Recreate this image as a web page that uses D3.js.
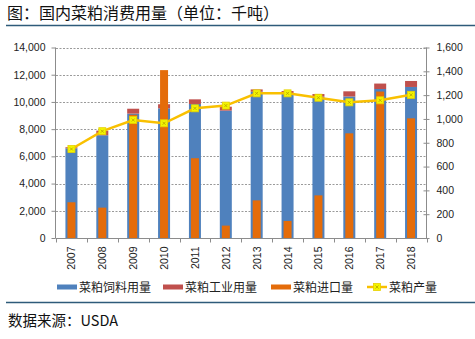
<!DOCTYPE html>
<html><head><meta charset="utf-8">
<script src="https://cdn.jsdelivr.net/npm/d3@7"></script>
<style>
body{margin:0;background:#fff;}
svg{display:block;}
text{font-family:"Liberation Sans",Arial,sans-serif;}
.cjk{font-family:"Noto Sans CJK SC",sans-serif;}
</style></head><body>
<script>
const years = ["2007","2008","2009","2010","2011","2012","2013","2014","2015","2016","2017","2018"];
const feedUse = [6590,7550,9140,9530,9850,9360,10750,10630,10390,10400,10950,11100];
const industrialUse = [80,340,360,300,340,290,170,170,190,380,400,440];
const imports = [300,255,1035,1410,670,104,316,143,358,879,1230,1005];
const production = [6540,7850,8670,8430,9530,9730,10630,10630,10310,9970,10120,10520];
const leftTicks = [0,2000,4000,6000,8000,10000,12000,14000];
const rightTicks = [0,200,400,600,800,1000,1200,1400,1600];
const seriesNames = ["菜粕饲料用量","菜粕工业用量","菜粕进口量","菜粕产量"];
const colors = {feed:"#4F81BD", ind:"#C0504D", imp:"#E46C0A", line:"#F9C000"};

const W=475,H=339;
const svg=d3.select("body").append("svg").attr("width",W).attr("height",H);

// title & frame lines
svg.append("text").attr("class","cjk").attr("x",7).attr("y",19).attr("font-size",16).attr("fill","#111").text("图：国内菜粕消费用量（单位：千吨）");
svg.append("line").attr("x1",6).attr("x2",475).attr("y1",25.5).attr("y2",25.5).attr("stroke","#2E5B7A").attr("stroke-width",1.5);
svg.append("line").attr("x1",6).attr("x2",475).attr("y1",302.5).attr("y2",302.5).attr("stroke","#2E5B7A").attr("stroke-width",1.5);
svg.append("text").attr("class","cjk").attr("x",8).attr("y",326).attr("font-size",14.5).attr("fill","#111").text("数据来源：USDA");

const x=d3.scaleBand().domain(years).range([56,426.5]).padding(0);
const yL=d3.scaleLinear().domain([0,14000]).range([238,47.5]);
const yR=d3.scaleLinear().domain([0,1600]).range([238,47.5]);

// gridlines
svg.append("g").selectAll("line").data(leftTicks.slice(1)).join("line")
  .attr("x1",56).attr("x2",426.5).attr("y1",d=>Math.round(yL(d))+0.5).attr("y2",d=>Math.round(yL(d))+0.5)
  .attr("stroke","#9a9a9a").attr("stroke-dasharray","2,1.5").attr("stroke-width",1);

// left axis
const gL=svg.append("g").attr("transform","translate(55.5,0)")
  .call(d3.axisLeft(yL).tickValues(leftTicks).tickSize(4).tickPadding(6).tickFormat(d3.format(",")));
// right axis
const gR=svg.append("g").attr("transform","translate(426.5,0)")
  .call(d3.axisRight(yR).tickValues(rightTicks).tickSize(3).tickPadding(7).tickFormat(d3.format(",")));
gR.selectAll(".tick line").attr("x1",-3);
// bottom axis
const gB=svg.append("g").attr("transform","translate(0,238.5)");
gB.append("line").attr("x1",55.5).attr("x2",426.5).attr("stroke","#8c8c8c");
gB.selectAll("line.t").data(d3.range(years.length+1)).join("line").attr("class","t")
  .attr("x1",i=>Math.round(56+i*x.bandwidth())+0.5).attr("x2",i=>Math.round(56+i*x.bandwidth())+0.5)
  .attr("y1",0).attr("y2",4).attr("stroke","#8c8c8c");
gB.selectAll("text").data(years).join("text")
  .attr("transform",d=>`translate(${x(d)+x.bandwidth()/2+4},8) rotate(-90)`)
  .attr("text-anchor","end").attr("font-size",10.5).attr("fill","#222").text(d=>d);

[gL,gR].forEach(g=>{
  g.select(".domain").attr("stroke","#8c8c8c");
  g.selectAll(".tick line").attr("stroke","#8c8c8c");
  g.selectAll(".tick text").attr("font-size",10.5).attr("fill","#222").style("font-family","Liberation Sans, Arial, sans-serif");
});
gL.select(".domain").attr("d","M0,47.5V238");
gR.select(".domain").attr("d","M0,47.5V238");

// stacked bars
const bw=12, ow=8;
const bars=svg.append("g");
years.forEach((yr,i)=>{
  const cx=x(yr)+x.bandwidth()/2;
  bars.append("rect").attr("x",cx-bw/2).attr("width",bw)
    .attr("y",yL(feedUse[i])).attr("height",yL(0)-yL(feedUse[i])).attr("fill",colors.feed);
  bars.append("rect").attr("x",cx-bw/2).attr("width",bw)
    .attr("y",yL(feedUse[i]+industrialUse[i])).attr("height",yL(feedUse[i])-yL(feedUse[i]+industrialUse[i])).attr("fill",colors.ind);
});
// import bars (right axis)
svg.append("g").selectAll("rect").data(imports).join("rect")
  .attr("x",(d,i)=>x(years[i])+x.bandwidth()/2-ow/2).attr("width",ow)
  .attr("y",d=>yR(d)).attr("height",d=>yR(0)-yR(d)).attr("fill",colors.imp);

// production line
const line=d3.line().x((d,i)=>x(years[i])+x.bandwidth()/2).y(d=>yL(d));
svg.append("path").datum(production).attr("d",line).attr("fill","none").attr("stroke",colors.line).attr("stroke-width",2.5);
function marker(g,cx,cy){
  g.append("rect").attr("x",cx-3.5).attr("y",cy-3.5).attr("width",7).attr("height",7).attr("fill","#F2F500").attr("stroke","#E8D000").attr("stroke-width",0.8);
  g.append("path").attr("d",`M${cx-1.5},${cy-1.5}L${cx+1.5},${cy+1.5}M${cx+1.5},${cy-1.5}L${cx-1.5},${cy+1.5}`).attr("stroke","#B8A000").attr("stroke-width",0.8);
}
const mg=svg.append("g");
production.forEach((d,i)=>marker(mg,x(years[i])+x.bandwidth()/2,yL(d)));

// legend
const lg=svg.append("g");
const items=[{n:seriesNames[0],c:colors.feed,x:57},{n:seriesNames[1],c:colors.ind,x:163},{n:seriesNames[2],c:colors.imp,x:271},{n:seriesNames[3],c:colors.line,x:367,line:true}];
items.forEach(it=>{
  if(it.line){
    lg.append("line").attr("x1",it.x).attr("x2",it.x+20).attr("y1",287).attr("y2",287).attr("stroke",it.c).attr("stroke-width",2.5);
    marker(lg,it.x+10,287);
  } else {
    lg.append("rect").attr("x",it.x).attr("y",284.5).attr("width",20).attr("height",5).attr("fill",it.c);
  }
  lg.append("text").attr("class","cjk").attr("x",it.x+22).attr("y",291.5).attr("font-size",12).attr("fill","#222").text(it.n);
});
</script>
</body></html>
